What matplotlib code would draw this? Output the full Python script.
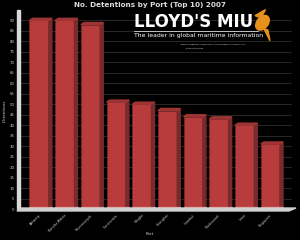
import matplotlib
matplotlib.use('Agg')
import matplotlib.pyplot as plt
from matplotlib.patches import Polygon, Rectangle, Ellipse

ports = ['Antwerp', 'Bandar Abbas', 'Novorossiysk', 'Constantza', 'Ningbo',
         'Shanghai', 'Istanbul', 'Vladivostok', 'Izmir', 'Singapore']
detentions = [90, 90, 88, 51, 50, 47, 44, 43, 40, 31]
yticks = list(range(0, 95, 5))

fig = plt.figure(figsize=(3, 2.4), dpi=100, facecolor='black')
ax = fig.add_axes([0.067, 0.129, 0.906, 0.821], facecolor='black')

# bars with a fake 3D side and top
width = 0.75
dx, dy = 0.12, 1.0
xs = list(range(len(ports)))
ax.bar(xs, detentions, width=width, color='#b83c3c', edgecolor='#8a2c2c',
       linewidth=0.4, zorder=3)
for x, v in zip(xs, detentions):
    right = x + width / 2
    left = x - width / 2
    side = Polygon([(right, 0), (right + dx, dy), (right + dx, v + dy), (right, v)],
                   closed=True, color='#7a2a2a', zorder=3)
    top = Polygon([(left, v), (left + dx, v + dy), (right + dx, v + dy), (right, v)],
                  closed=True, color='#9e3434', zorder=3)
    ax.add_patch(side)
    ax.add_patch(top)
    ax.add_patch(Rectangle((left, -0.3), width + dx, 1.2, color='#e86a6a', zorder=4))

ax.set_xlim(-0.74, 9.84)
ax.set_ylim(0, 94)
ax.set_yticks(yticks)
ax.set_yticklabels([str(t) for t in yticks], fontsize=2.8, color='#cccccc')
ax.set_xticks(xs)
ax.set_xticklabels(ports, rotation=45, ha='right', rotation_mode='anchor',
                   fontsize=2.4, color='#cccccc')
ax.tick_params(axis='y', length=0, pad=4)
ax.tick_params(axis='x', length=0, pad=3)
ax.grid(axis='y', color='#2e2e2e', linewidth=0.6, zorder=0)
for s in ax.spines.values():
    s.set_visible(False)

ax.set_ylabel('Detentions', fontsize=3, color='#cccccc', labelpad=2)
fig.text(0.5, 0.025, 'Port', ha='center', va='center', fontsize=3, color='#cccccc')
fig.text(0.5, 0.978, 'No. Detentions by Port (Top 10) 2007', ha='center', va='center',
         fontsize=5.2, fontweight='bold', color='#dddddd')

# left wall and floor
fig.patches.append(Rectangle((17 / 300, 31 / 240), 3 / 300, 199 / 240,
                             transform=fig.transFigure, color='#d8d8d8', zorder=0))
fig.patches.append(Polygon([(17 / 300, 29 / 240), (289 / 300, 29 / 240),
                            (296 / 300, 32 / 240), (20 / 300, 32 / 240)],
                           closed=True, transform=fig.transFigure, color='#d0d0d0', zorder=0))

# Lloyd's MIU logo
fig.text(0.445, 0.908, "LLOYD'S MIU", ha='left', va='center', fontsize=12,
         fontweight='bold', color='white', family='DejaVu Sans')
fig.lines.append(plt.Line2D([0.445, 0.86], [0.87, 0.87], transform=fig.transFigure,
                            color='white', linewidth=0.5))
fig.text(0.445, 0.853, 'The leader in global maritime information', ha='left', va='center',
         fontsize=4.4, color='white')
fig.text(0.6, 0.815, "Lloyd's is the registered trademark of the Society incorporated by the Lloyd's Act 1871",
         ha='left', va='center', fontsize=1.1, color='white')
fig.text(0.62, 0.8, "by the name of Lloyd's", ha='left', va='center', fontsize=1.1, color='white')
fig.patches.append(Ellipse((0.875, 0.905), 0.04, 0.065, angle=-25, transform=fig.transFigure,
                           color='#e8901c'))
fig.patches.append(Polygon([(0.85, 0.935), (0.885, 0.96), (0.87, 0.925)], closed=True,
                           transform=fig.transFigure, color='#e8901c'))
fig.patches.append(Polygon([(0.88, 0.88), (0.9, 0.83), (0.893, 0.875)], closed=True,
                           transform=fig.transFigure, color='#e8901c'))

fig.savefig('out.png', dpi=100, facecolor='black')
